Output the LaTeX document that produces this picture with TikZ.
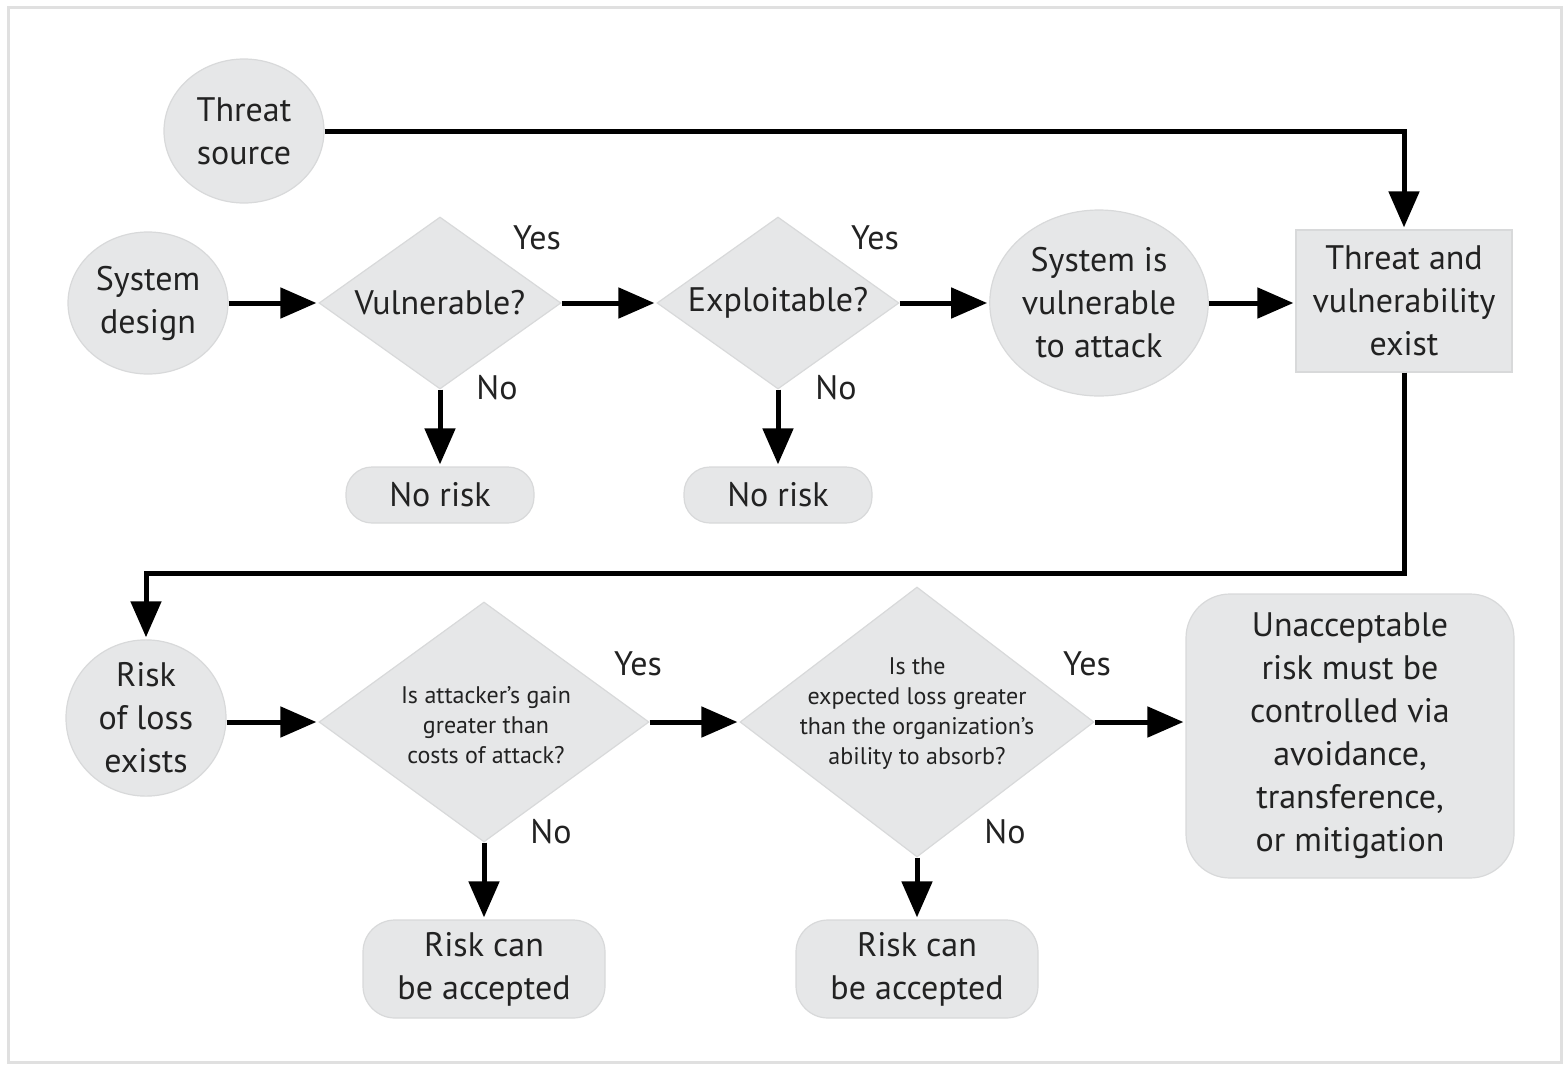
\documentclass[tikz,border=0pt]{standalone}
\usepackage{fontspec}
\setmainfont{PT Sans}
\usetikzlibrary{shapes.geometric,arrows.meta}

\definecolor{boxgray}{HTML}{E6E7E8}
\definecolor{boxedge}{HTML}{D8D9DA}
\definecolor{txt}{HTML}{222222}

\tikzset{
  shp/.style={fill=boxgray, draw=boxedge, line width=0.6pt, text=txt,
    font=\fontsize{17}{21.5}\selectfont, align=center, inner sep=0pt},
  blob/.style={shp, ellipse},
  dia/.style={shp, diamond},
  plate/.style={shp, rectangle, rounded corners=#1},
  flow/.style={line width=2.5pt, -{Triangle[length=18pt,width=15pt]}, shorten >=1pt},
  ans/.style={text=txt, font=\fontsize{17}{20}\selectfont, inner sep=0pt},
  qbig/.style={text=txt, font=\fontsize{17}{21.5}\selectfont, align=center, inner sep=0pt},
  qsmall/.style={text=txt, font=\fontsize{12}{15}\selectfont, align=center, inner sep=0pt},
}

\begin{document}
\begin{tikzpicture}[x=0.5pt,y=-0.5pt]
			\useasboundingbox (0,0) rectangle (1564,1066);
			\draw[black!12, line width=1.5pt] (8,7) rectangle (1561,1062);
			% top row
			\node[blob, minimum width=80pt, minimum height=72pt] (threat) at (244,131) {Threat\\source};
			\node[blob, minimum width=80pt, minimum height=71pt] (design) at (148,303) {System\\design};
			\node[dia, minimum width=121pt, minimum height=86pt] (vuln) at (440,303) {};
			\node[qbig] (vulntxt) at (440,303) {Vulnerable?};
			\node[dia, minimum width=121pt, minimum height=86pt] (exploit) at (778,303) {};
			\node[qbig] (exploittxt) at (778,303) {Exploitable?};
			\node[blob, minimum width=105pt, minimum height=93pt] (open) at (1099,303) {System is\\vulnerable\\to attack};
			\node[plate=0pt, minimum width=108pt, minimum height=71pt] (exist) at (1404,301) {Threat and\\vulnerability\\exist};
			\node[plate=13pt, minimum width=94pt, minimum height=28pt] (safe1) at (440,495) {No risk};
			\node[plate=13pt, minimum width=94pt, minimum height=28pt] (safe2) at (778,495) {No risk};
			% bottom row
			\node[blob, minimum width=80pt, minimum height=74pt] (loss) at (146,718) {Risk\\of loss\\exists};
			\node[dia, minimum width=165pt, minimum height=120pt] (gain) at (484,722) {};
			\node[qsmall] (gaintxt) at (486,725) {Is attacker’s gain\\greater than\\costs of attack?};
			\node[dia, minimum width=177pt, minimum height=135pt] (absorb) at (917,722) {};
			\node[qsmall] (absorbtxt) at (917,714) {Is the\\expected loss greater\\than the organization’s\\ability to absorb?};
			\node[plate=22pt, minimum width=164pt, minimum height=142pt] (control) at (1350,736) {Unacceptable\\risk must be\\controlled via\\avoidance,\\transference,\\or mitigation};
			\node[plate=16pt, minimum width=121pt, minimum height=49pt] (ok1) at (484,969) {Risk can\\be accepted};
			\node[plate=16pt, minimum width=121pt, minimum height=49pt] (ok2) at (917,969) {Risk can\\be accepted};
			% yes / no
			\node[ans] (y1) at (537,238) {Yes};
			\node[ans] (n1) at (497,388) {No};
			\node[ans] (y2) at (875,238) {Yes};
			\node[ans] (n2) at (836,388) {No};
			\node[ans] (y3) at (638,664) {Yes};
			\node[ans] (n3) at (551,832) {No};
			\node[ans] (y4) at (1087,664) {Yes};
			\node[ans] (n4) at (1005,832) {No};
			% connectors
			\coordinate (turn) at (0,573);
			\draw[flow] (threat) -- (threat -| exist) -- (exist);
			\draw[flow] (design) -- (vuln);
			\draw[flow] (vuln) -- (exploit);
			\draw[flow] (exploit) -- (open);
			\draw[flow] (open) -- (open -| exist.west);
			\draw[flow] (vuln) -- (safe1);
			\draw[flow] (exploit) -- (safe2);
			\draw[flow] (exist) -- (exist |- turn) -| (loss);
			\draw[flow] (loss.east |- gain) -- (gain);
			\draw[flow] (gain) -- (absorb);
			\draw[flow] (absorb) -- (absorb -| control.west);
			\draw[flow] (gain) -- (ok1);
			\draw[flow] (absorb) -- (ok2);
\end{tikzpicture}
\end{document}
